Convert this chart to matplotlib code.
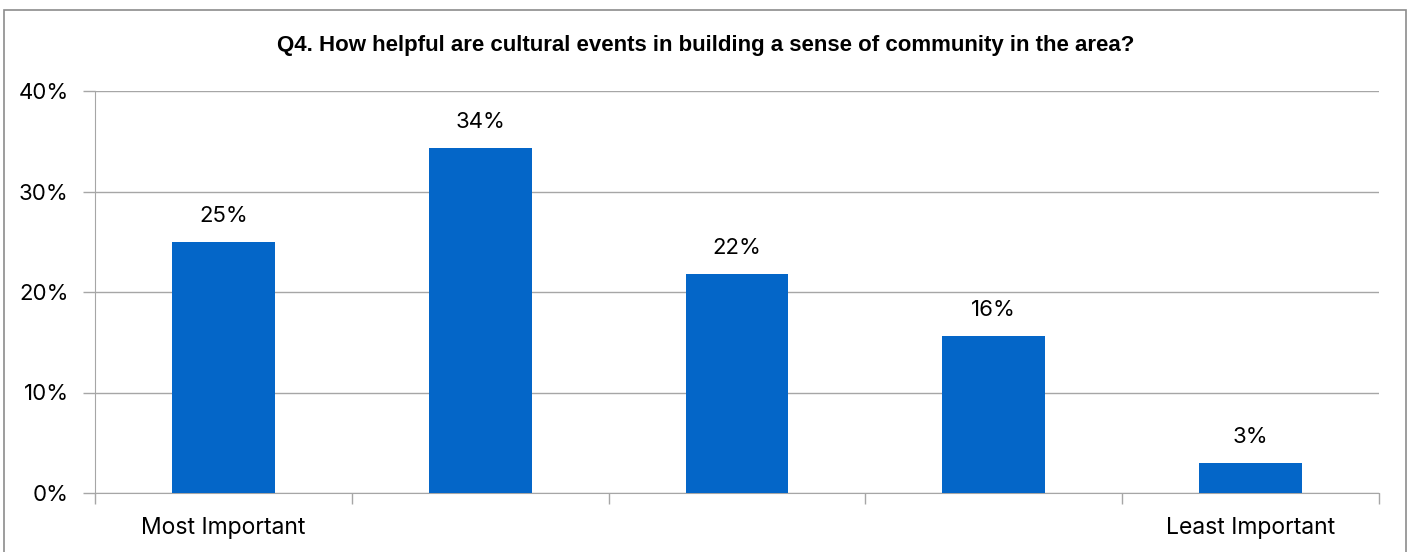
import matplotlib.pyplot as plt
from matplotlib.patches import Rectangle

categories = ['Most Important', '', '', '', 'Least Important']
values = [25.0, 34.3, 21.8, 15.6, 3.0]
labels = ['25%', '34%', '22%', '16%', '3%']
yticks = [0, 10, 20, 30, 40]

title = 'Q4. How helpful are cultural events in building a sense of community in the area?'
bar_color = '#0466C8'
grid_color = '#A6A6A6'

fig = plt.figure(figsize=(14.12, 5.52), dpi=100)
ax = fig.add_axes([95/1412, 1-493/552, (1379-95)/1412, (493-91)/552])

x = list(range(len(values)))
ax.bar(x, values, width=0.4, color=bar_color, zorder=3)
for xi, v, lab in zip(x, values, labels):
    ax.text(xi, v + 1.6, lab, ha='center', va='bottom', fontsize=16, family='Inter')

ax.set_xlim(-0.5, len(values) - 0.5)
ax.set_ylim(0, 40)
ax.set_yticks(yticks)
ax.set_yticklabels([f'{t}%' for t in yticks], fontsize=16, family='Inter')
ax.yaxis.grid(True, color=grid_color, lw=1, zorder=0)
ax.set_xticks(x)
ax.set_xticklabels(categories, fontsize=16.5, family='Inter')
ax.tick_params(axis='x', length=0, pad=17)
ax.set_xticks([i - 0.5 for i in range(len(values) + 1)], minor=True)
ax.tick_params(axis='x', which='minor', length=8, color=grid_color, width=1)
ax.tick_params(axis='y', length=9, color=grid_color, width=1, pad=10)
for s in ['top', 'right']:
    ax.spines[s].set_visible(False)
ax.spines['left'].set_color(grid_color)
ax.spines['bottom'].set_color(grid_color)

fig.text(0.5, 1-45/552, title, ha='center', va='center', fontsize=16,
         fontweight='bold', family='Liberation Sans')

fig.patches.append(Rectangle((4/1412, -0.05), 1402/1412, 1-10/552+0.05,
                             transform=fig.transFigure, fill=False,
                             edgecolor='#8C8C8C', lw=1.2))

fig.savefig('out.png', dpi=100)
